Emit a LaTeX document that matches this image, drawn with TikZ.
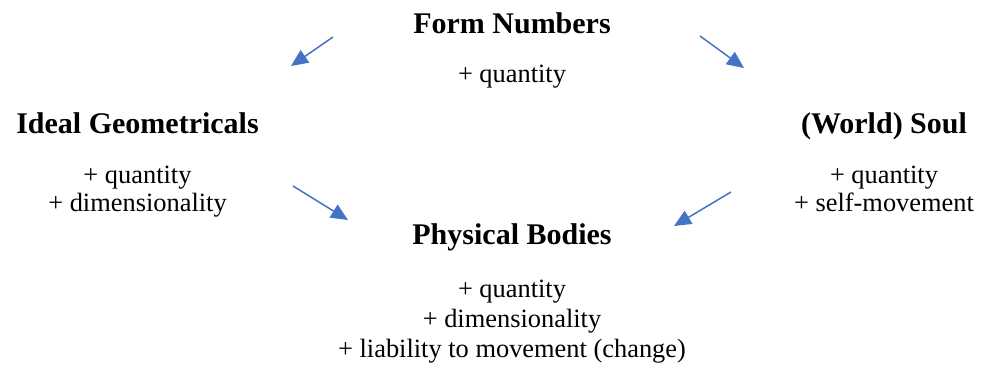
\documentclass[tikz,border=0pt]{standalone}
\usepackage{fontspec}
\setmainfont{Liberation Serif}
\usetikzlibrary{arrows.meta}
\definecolor{arrowblue}{HTML}{4472C4}
\tikzset{
  title/.style={anchor=base, inner sep=0pt, font=\fontsize{30}{36}\selectfont\bfseries},
  attr/.style={anchor=base, inner sep=0pt, font=\fontsize{26.4}{30}\selectfont},
  conn/.style={draw=arrowblue, line width=1.5pt, -{Triangle[length=17pt,width=15pt]}, arrowblue}
}
\begin{document}
\begin{tikzpicture}[x=1pt,y=-1pt]
\useasboundingbox (0,0) rectangle (985,373);
% Form Numbers
\node[title] (fn) at (512,33) {Form Numbers};
\node[attr] (fnq) at (512,82) {+ quantity};
% Ideal Geometricals
\node[title] (ig) at (137.5,133) {Ideal Geometricals};
\node[attr] (igq) at (137.5,183) {+ quantity};
\node[attr] (igd) at (137.5,211) {+ dimensionality};
% World Soul
\node[title] (ws) at (884,133) {(World) Soul};
\node[attr] (wsq) at (884,183) {+ quantity};
\node[attr] (wss) at (884,211) {+ self-movement};
% Physical Bodies
\node[title] (pb) at (512,244) {Physical Bodies};
\node[attr] (pbq) at (512,297) {+ quantity};
\node[attr] (pbd) at (512,327) {+ dimensionality};
\node[attr] (pbl) at (512,357) {+ liability to movement (change)};
% arrow endpoints
\coordinate (a1s) at (333,37);  \coordinate (a1e) at (291,66);
\coordinate (a2s) at (700,36);  \coordinate (a2e) at (744,68);
\coordinate (a3s) at (293,186); \coordinate (a3e) at (348,220);
\coordinate (a4s) at (731,192); \coordinate (a4e) at (674,226);
\draw[conn] (a1s) -- (a1e);
\draw[conn] (a2s) -- (a2e);
\draw[conn] (a3s) -- (a3e);
\draw[conn] (a4s) -- (a4e);
\end{tikzpicture}
\end{document}
